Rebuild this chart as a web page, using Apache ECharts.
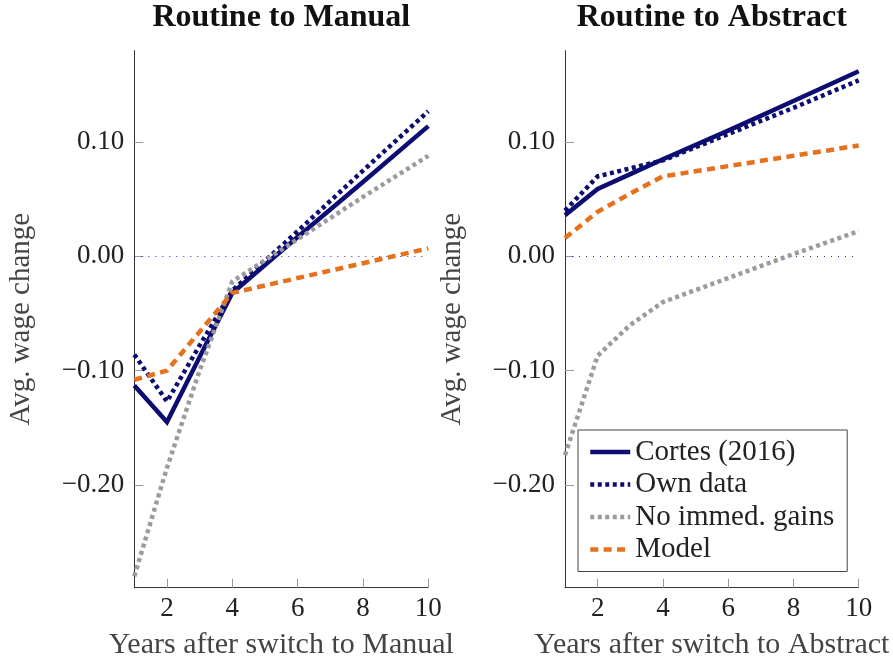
<!DOCTYPE html>
<html>
<head>
<meta charset="utf-8">
<script src="https://cdn.jsdelivr.net/npm/echarts@6/dist/echarts.min.js"></script>
<style>
html,body{margin:0;padding:0;background:#fff;}
#c{width:893px;height:659px;}
</style>
</head>
<body>
<div id="c"></div>
<script>
// ---- data ----
const years = [1, 2, 3, 4, 6, 8, 10];
const seriesNames = ['Cortes (2016)', 'Own data', 'No immed. gains', 'Model'];
const panelTitles = ['Routine to Manual', 'Routine to Abstract'];
const xAxisNames = ['Years after switch to Manual', 'Years after switch to Abstract'];
const yAxisName = 'Avg. wage change';
const xTicks = [2, 4, 6, 8, 10];
const yTicks = [-0.2, -0.1, 0, 0.1];

// Routine to Manual
const manualCortes = [-0.113, -0.145, -0.088, -0.032, 0.017, 0.065, 0.114];
const manualOwn    = [-0.086, -0.127, -0.078, -0.030, 0.022, 0.075, 0.127];
const manualNoGain = [-0.280, -0.185, -0.100, -0.022, 0.015, 0.052, 0.088];
const manualModel  = [-0.108, -0.100, -0.066, -0.032, -0.019, -0.006, 0.007];

// Routine to Abstract
const abstractCortes = [0.036, 0.059, 0.072, 0.085, 0.110, 0.136, 0.162];
const abstractOwn    = [0.040, 0.070, 0.077, 0.084, 0.107, 0.130, 0.154];
const abstractNoGain = [-0.174, -0.087, -0.060, -0.040, -0.019, 0.002, 0.022];
const abstractModel  = [0.016, 0.039, 0.055, 0.070, 0.079, 0.088, 0.097];

// ---- styles ----
const NAVY = '#0c0c72', GRAY = '#9a9aa0', ORANGE = '#e5711d';
const FONT = '"Liberation Serif", "Times New Roman", serif';
const LW = 4.5;
const styles = [
  {color: NAVY, type: 'solid'},
  {color: NAVY, type: [4, 3.5]},
  {color: GRAY, type: [4, 3.5]},
  {color: ORANGE, type: [8, 5.4]}
];

const panels = [
  [manualCortes, manualOwn, manualNoGain, manualModel],
  [abstractCortes, abstractOwn, abstractNoGain, abstractModel]
];

const grids = [
  {left: 134.3, right: 893 - 428.3, top: 50.7, bottom: 659 - 587.7, containLabel: false, outerBoundsMode: 'none'},
  {left: 565, right: 893 - 858.7, top: 50.7, bottom: 659 - 587.7, containLabel: false, outerBoundsMode: 'none'}
];

function fmtY(v) {
  const s = Math.abs(v).toFixed(2);
  return (v < -1e-9 ? '\u2212' : '') + s;
}

const xAxes = grids.map((g, i) => ({
  type: 'value', gridIndex: i, min: 1, max: 10,
  name: xAxisNames[i], nameLocation: 'middle', nameGap: 42,
  nameTextStyle: {fontFamily: FONT, fontSize: 30, color: '#444'},
  axisLine: {show: true, onZero: false, lineStyle: {color: '#333', width: 1}},
  axisTick: {show: true, inside: true, length: 9, customValues: xTicks, lineStyle: {color: '#999', width: 1}},
  axisLabel: {customValues: xTicks, fontFamily: FONT, fontSize: 27, color: '#222', margin: 8},
  splitLine: {show: false}
}));

const yAxes = grids.map((g, i) => ({
  type: 'value', gridIndex: i, min: -0.29, max: 0.18,
  name: yAxisName, nameLocation: 'middle', nameGap: 98,
  nameTextStyle: {fontFamily: FONT, fontSize: 29, color: '#444'},
  axisLine: {show: true, onZero: false, lineStyle: {color: '#333', width: 1}},
  axisTick: {show: true, inside: true, length: 9, customValues: yTicks, lineStyle: {color: '#999', width: 1}},
  axisLabel: {customValues: yTicks, formatter: fmtY, fontFamily: FONT, fontSize: 27, color: '#222', margin: 10},
  splitLine: {show: false}
}));

const series = [];
panels.forEach((vals, p) => {
  vals.forEach((arr, k) => {
    const s = {
      name: seriesNames[k], type: 'line', xAxisIndex: p, yAxisIndex: p,
      data: years.map((x, j) => [x, arr[j]]),
      symbol: 'none', showSymbol: false, smooth: false,
      lineStyle: {color: styles[k].color, width: LW, type: styles[k].type, cap: 'butt', join: 'miter'},
      itemStyle: {color: styles[k].color},
      z: 3 + k,
      animation: false
    };
    if (k === 0) {
      s.markLine = {
        silent: true, symbol: 'none', animation: false,
        label: {show: false},
        lineStyle: {color: '#2a2ae0', width: 1, type: [1, 6]},
        data: [{yAxis: 0}]
      };
    }
    series.push(s);
  });
});

const chart = echarts.init(document.getElementById('c'), null, {renderer: 'canvas'});
chart.setOption({
  animation: false,
  backgroundColor: '#fff',
  grid: grids,
  xAxis: xAxes,
  yAxis: yAxes,
  legend: {
    data: seriesNames,
    orient: 'vertical',
    left: 578, top: 430,
    padding: [7, 13, 7, 10],
    itemGap: 2.5,
    itemWidth: 40, itemHeight: 14,
    borderColor: '#444', borderWidth: 1,
    backgroundColor: '#fff',
    itemStyle: {opacity: 0},
    lineStyle: {width: LW},
    textStyle: {fontFamily: FONT, fontSize: 29, color: '#222', lineHeight: 30},
    selectedMode: false
  },
  graphic: panelTitles.map((t, i) => ({
    type: 'text',
    x: i === 0 ? 281.3 : 711.8, y: 18,
    style: {text: t, textAlign: 'center', textVerticalAlign: 'middle',
      font: 'bold 32px ' + FONT, fill: '#111'}
  })),
  series: series
});
</script>
</body>
</html>
